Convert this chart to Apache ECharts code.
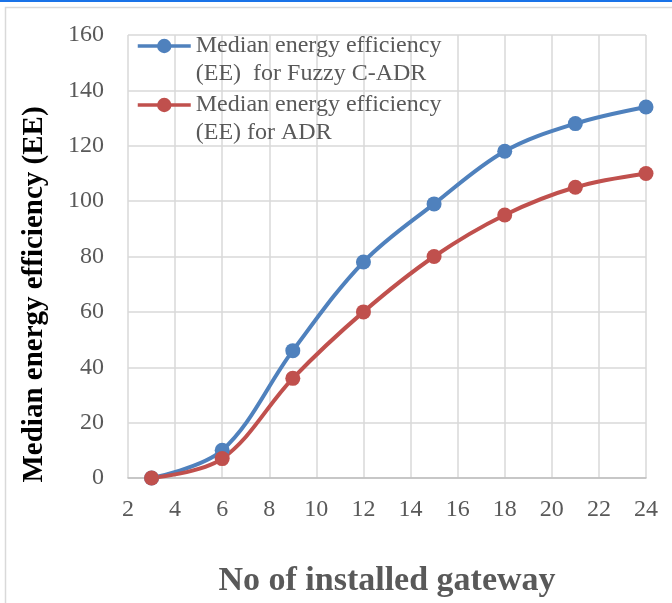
<!DOCTYPE html>
<html><head><meta charset="utf-8">
<script src="https://cdn.jsdelivr.net/npm/echarts@6/dist/echarts.min.js"></script>
<style>html,body{margin:0;padding:0;background:#fff}#c{width:672px;height:603px}</style>
</head><body><div id="c"></div>
<script>
const xValues = [3, 6, 9, 12, 15, 18, 21, 24];
const fuzzyEE = [0, 10, 46, 78, 99, 118, 128, 134];
const adrEE = [0, 7, 36, 60, 80, 95, 105, 110];
const seriesNames = ['Median energy efficiency\n(EE)  for Fuzzy C-ADR', 'Median energy efficiency\n(EE) for ADR'];
const xTitle = 'No of installed gateway';
const yTitle = 'Median energy efficiency (EE)';

const font = 'Liberation Serif';
const chart = echarts.init(document.getElementById('c'), null, {renderer: 'canvas'});
chart.setOption({
  backgroundColor: '#fff',
  animation: false,
  graphic: [
    {type: 'line', shape: {x1: 0, y1: 1, x2: 672, y2: 1}, style: {stroke: '#1a73e8', lineWidth: 2}, z: -1},
    {type: 'rect', shape: {x: 5.5, y: 7.5, width: 700, height: 700}, style: {fill: 'none', stroke: '#d9d9d9', lineWidth: 1.5}, z: -1}
  ],
  grid: {left: 128, right: 26, top: 35, bottom: 125, containLabel: false},
  legend: {
    orient: 'vertical', left: 136, top: 4, padding: 0, itemWidth: 53, itemHeight: 18, itemGap: -25,
    formatter: name => '\n' + name,
    lineStyle: {width: 3.5},
    textStyle: {fontFamily: font, fontSize: 24, color: '#595959', lineHeight: 28},
    data: seriesNames
  },
  xAxis: {
    type: 'value', min: 2, max: 24, interval: 2,
    name: xTitle, nameLocation: 'middle', nameGap: 86,
    nameTextStyle: {fontFamily: font, fontSize: 34, fontWeight: 'bold', color: '#595959'},
    axisLine: {lineStyle: {color: '#bfbfbf', width: 1.5}},
    axisTick: {show: false},
    axisLabel: {fontFamily: font, fontSize: 24, color: '#595959', margin: 20},
    splitLine: {show: true, lineStyle: {color: '#d9d9d9', width: 1.5}}
  },
  yAxis: {
    type: 'value', min: 0, max: 160, interval: 20,
    name: yTitle, nameLocation: 'middle', nameGap: 79,
    nameTextStyle: {fontFamily: font, fontSize: 29, fontWeight: 'bold', color: '#000', padding: [0, 76, 0, 0]},
    axisLine: {show: false},
    axisTick: {show: false},
    axisLabel: {fontFamily: font, fontSize: 24, color: '#595959', margin: 24},
    splitLine: {show: true, lineStyle: {color: '#d9d9d9', width: 1.5}}
  },
  series: [
    {name: seriesNames[0], type: 'line', smooth: 0.35, data: xValues.map((x, i) => [x, fuzzyEE[i]]),
     symbol: 'circle', symbolSize: 15, color: '#4f81bd', lineStyle: {width: 4, color: '#4f81bd'}, itemStyle: {color: '#4f81bd'}},
    {name: seriesNames[1], type: 'line', smooth: 0.35, data: xValues.map((x, i) => [x, adrEE[i]]),
     symbol: 'circle', symbolSize: 15, color: '#c0504d', lineStyle: {width: 4, color: '#c0504d'}, itemStyle: {color: '#c0504d'}}
  ]
});
</script></body></html>
